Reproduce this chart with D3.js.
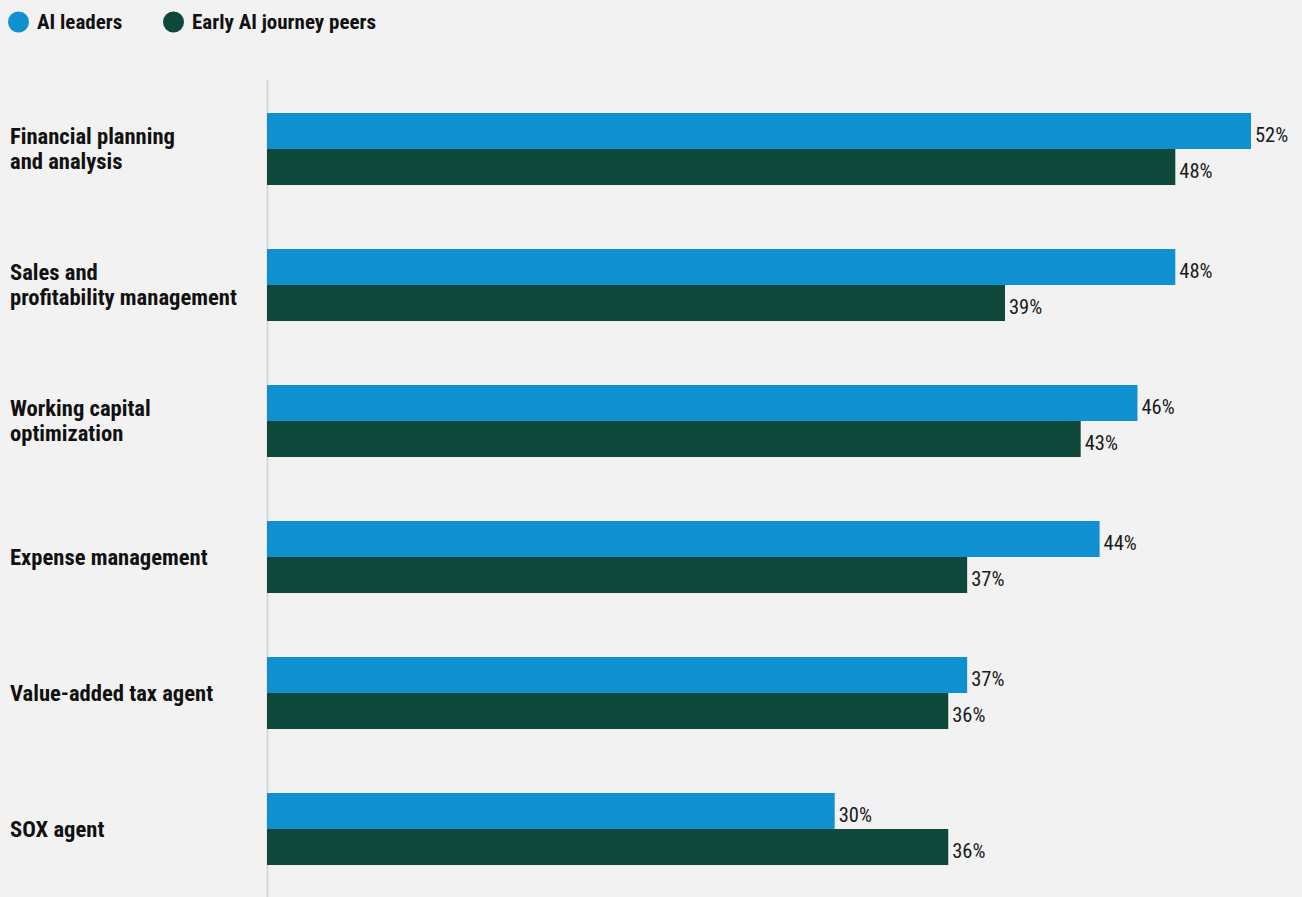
<!DOCTYPE html>
<html>
<head>
<meta charset="utf-8">
<script src="https://cdn.jsdelivr.net/npm/d3@7"></script>
<style>
  html, body { margin: 0; padding: 0; background: #f1f2f1; }
  svg { display: block; }
  .lbl { font-family: "Roboto Condensed", "Liberation Sans Narrow", "DejaVu Sans Condensed", Roboto, sans-serif; }
</style>
</head>
<body>
<svg id="chart" width="1302" height="897"></svg>
<script>
// Use-case categories (label lines) and share of respondents per group
const categories = [
  ["Financial planning", "and analysis"],
  ["Sales and", "profitability management"],
  ["Working capital", "optimization"],
  ["Expense management"],
  ["Value-added tax agent"],
  ["SOX agent"]
];
const seriesNames = ["AI leaders", "Early AI journey peers"];
const aiLeaders = [52, 48, 46, 44, 37, 30];
const earlyPeers = [48, 39, 43, 37, 36, 36];
const seriesColors = ["#0f90d0", "#0d483b"];

const svg = d3.select("#chart");
const W = 1302, H = 897;

const catKeys = categories.map(c => c.join(" "));
const values = [aiLeaders, earlyPeers];

const x = d3.scaleLinear().domain([0, 52]).range([267, 1251]);
const y = d3.scaleBand().domain(catKeys).range([113, 865]).paddingInner(0.4706).paddingOuter(0);
const ySub = d3.scaleBand().domain(seriesNames).range([0, y.bandwidth()]);

// Baseline
svg.append("line")
  .attr("x1", x(0) + 0.5).attr("x2", x(0) + 0.5)
  .attr("y1", 80).attr("y2", H)
  .attr("stroke", "#d6d7d6").attr("stroke-width", 2);

// Legend
const legend = svg.append("g");
const legendX = [18.5, 173.5];
seriesNames.forEach((s, i) => {
  legend.append("circle").attr("cx", legendX[i]).attr("cy", 22).attr("r", 10.5).attr("fill", seriesColors[i]);
  legend.append("text").attr("class", "lbl")
    .attr("x", legendX[i] + 18.5).attr("y", 29)
    .attr("font-size", 21).attr("font-weight", 700).attr("fill", "#111")
    .text(s);
});

// Category labels, vertically centred on each bar pair
const lineGap = 25;
const cat = svg.append("g").selectAll("text").data(categories).join("text")
  .attr("class", "lbl")
  .attr("x", 10)
  .attr("font-size", 22.6).attr("font-weight", 700).attr("fill", "#111")
  .attr("y", (d, i) => y(catKeys[i]) + y.bandwidth() / 2 + 8 - (d.length - 1) * lineGap / 2);
cat.selectAll("tspan").data(d => d).join("tspan")
  .attr("x", 10)
  .attr("dy", (d, i) => i === 0 ? 0 : lineGap)
  .text(d => d);

// Bars and value labels
const groups = svg.append("g").selectAll("g").data(catKeys).join("g")
  .attr("transform", d => `translate(0,${y(d)})`);

seriesNames.forEach((s, si) => {
  groups.append("rect")
    .attr("x", x(0))
    .attr("y", ySub(s))
    .attr("height", ySub.bandwidth())
    .attr("width", (d, i) => x(values[si][i]) - x(0))
    .attr("fill", seriesColors[si]);
  groups.append("text").attr("class", "lbl")
    .attr("x", (d, i) => x(values[si][i]) + 4)
    .attr("y", ySub(s) + ySub.bandwidth() / 2 + 11.5)
    .attr("font-size", 20.5).attr("fill", "#1a1a1a")
    .text((d, i) => values[si][i] + "%");
});
</script>
</body>
</html>
